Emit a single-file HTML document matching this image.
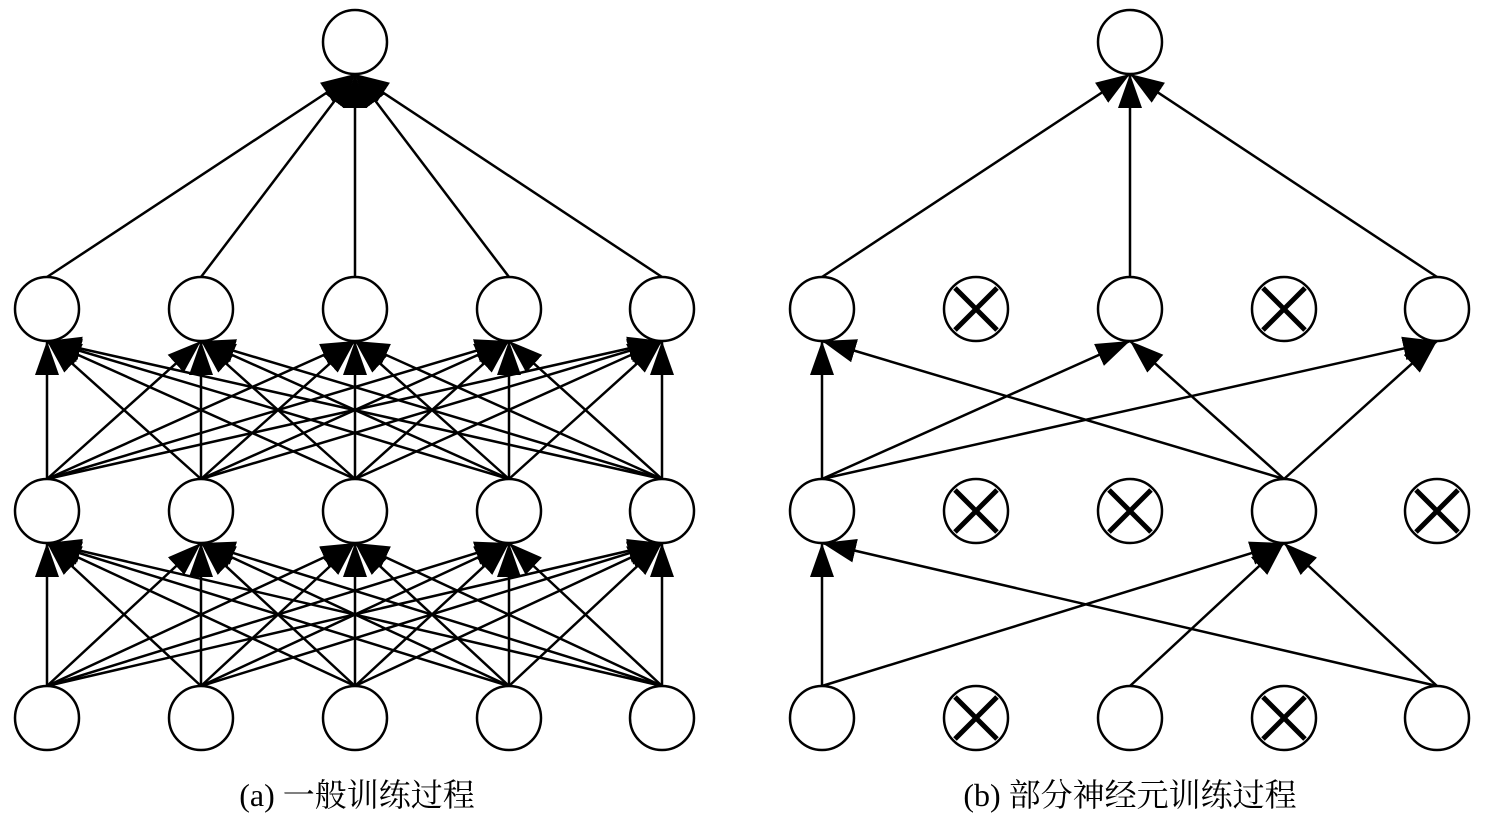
<!DOCTYPE html>
<html><head><meta charset="utf-8"><style>
html,body{margin:0;padding:0;background:#fff;}
svg{display:block}
text{font-family:"Liberation Serif","Noto Serif CJK SC",serif;font-size:32px;fill:#000}
</style></head><body>
<svg id="s" width="1488" height="816" xmlns="http://www.w3.org/2000/svg">
<defs>
<marker id="ah" markerUnits="userSpaceOnUse" markerWidth="40" markerHeight="30" refX="34" refY="12" orient="auto">
<path d="M0,0 L34,12 L0,24 z" fill="#000"/>
</marker>
</defs>
<g id="edges" stroke="#000" stroke-width="2.5"></g>
<g id="nodes" stroke="#000" stroke-width="2.5" fill="#fff"></g>
<text x="357" y="806" text-anchor="middle">(a) 一般训练过程</text>
<text x="1130" y="806" text-anchor="middle">(b) 部分神经元训练过程</text>
</svg>
<script>
var NS="http://www.w3.org/2000/svg",E=document.getElementById('edges'),N=document.getElementById('nodes');
var R=32,Y=[718,511,309,42];
var AX=[47,201,355,509,662],BX=[822,976,1130,1284,1437];
function line(x1,y1,x2,y2){var l=document.createElementNS(NS,'line');l.setAttribute('x1',x1);l.setAttribute('y1',y1);l.setAttribute('x2',x2);l.setAttribute('y2',y2);l.setAttribute('marker-end','url(#ah)');E.appendChild(l);}
function circ(x,y,cross){var c=document.createElementNS(NS,'circle');c.setAttribute('cx',x);c.setAttribute('cy',y);c.setAttribute('r',R);N.appendChild(c);
if(cross){var d=21;[[x-d,y-d,x+d,y+d],[x-d,y+d,x+d,y-d]].forEach(function(p){var l=document.createElementNS(NS,'line');l.setAttribute('x1',p[0]);l.setAttribute('y1',p[1]);l.setAttribute('x2',p[2]);l.setAttribute('y2',p[3]);l.setAttribute('stroke-width','5');N.appendChild(l);});}}
for(var L=0;L<2;L++)for(var i=0;i<5;i++)for(var j=0;j<5;j++)line(AX[i],Y[L]-R,AX[j],Y[L+1]+R);
for(var i=0;i<5;i++)line(AX[i],Y[2]-R,355,Y[3]+R);
for(var L=0;L<3;L++)for(var i=0;i<5;i++)circ(AX[i],Y[L],false);
circ(355,Y[3],false);
var e1=[[0,0],[0,3],[2,3],[4,0],[4,3]],e2=[[0,0],[0,2],[0,4],[3,0],[3,2],[3,4]];
e1.forEach(function(e){line(BX[e[0]],Y[0]-R,BX[e[1]],Y[1]+R);});
e2.forEach(function(e){line(BX[e[0]],Y[1]-R,BX[e[1]],Y[2]+R);});
[0,2,4].forEach(function(i){line(BX[i],Y[2]-R,1130,Y[3]+R);});
var cr=[[0,1,0,1,0],[0,1,1,0,1],[0,1,0,1,0]];
for(var L=0;L<3;L++)for(var i=0;i<5;i++)circ(BX[i],Y[L],cr[L][i]);
circ(1130,Y[3],false);
</script>
</body></html>
